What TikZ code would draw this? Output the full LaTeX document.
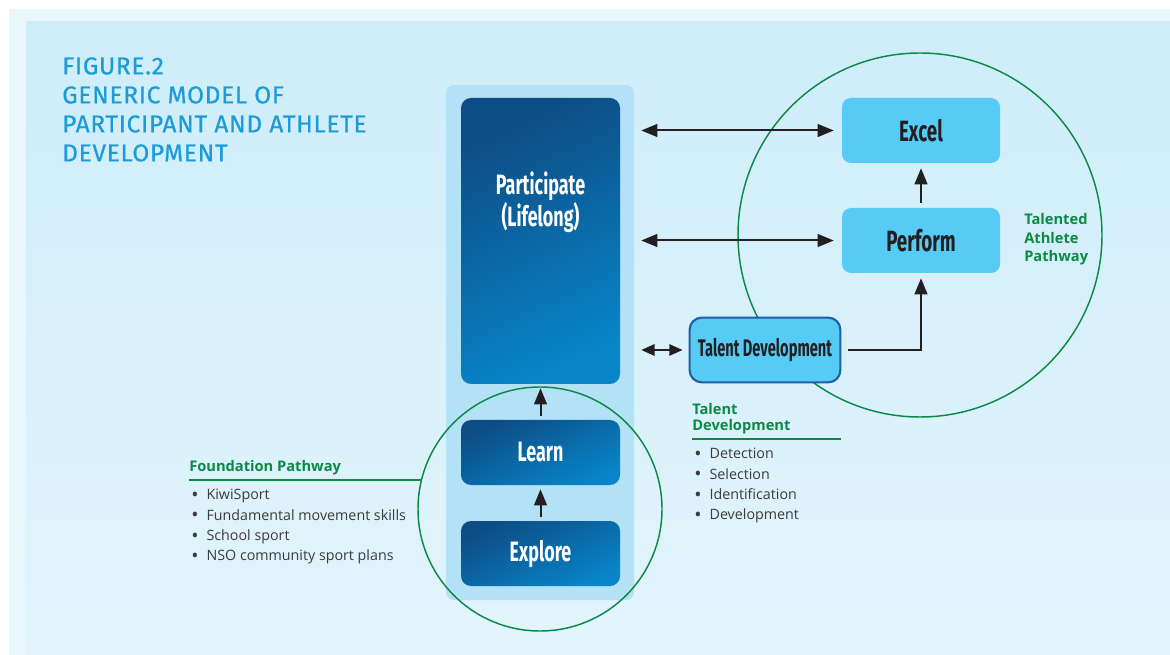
\documentclass[tikz,border=0pt]{standalone}
\usepackage{fontspec}
\usepackage{graphicx}
\setmainfont{Open Sans}
\newfontfamily\titlefont{Fira Sans}[FakeBold=0.6, LetterSpace=3]
\newfontfamily\boxfont{Fira Sans}
\usetikzlibrary{arrows.meta}
\definecolor{panelTop}{HTML}{CDEDF9}
\definecolor{panelBot}{HTML}{E3F4FC}
\definecolor{bandcol}{HTML}{E9F6FC}
\definecolor{colrect}{HTML}{B3E1F6}
\definecolor{darkA}{HTML}{0D4C85}
\definecolor{darkB}{HTML}{0885C8}
\definecolor{lightbox}{HTML}{55CBF5}
\definecolor{tdborder}{HTML}{1C5EA8}
\definecolor{pathgreen}{HTML}{0C8A45}
\definecolor{ink}{HTML}{231F20}
\definecolor{bodytext}{HTML}{3B3B3B}
\definecolor{titleblue}{HTML}{1B9CD8}
\newcommand{\cnd}[2][0.64]{\scalebox{#1}[1]{#2}}
\newcommand{\bul}{\makebox[13pt][l]{\hspace{1.5pt}\raisebox{-1.3pt}{\scalebox{1.35}{\textbullet}}}}
\tikzset{
  darkbox/.style={rounded corners=7.5pt, top color=darkA, bottom color=darkB, shading angle=25,
    minimum width=119.25pt, inner sep=0pt, text=white, font=\boxfont\bfseries\fontsize{21}{24}\selectfont},
  lightbx/.style={rounded corners=6.75pt, fill=lightbox, minimum width=118.5pt, minimum height=48.75pt,
    inner sep=0pt, text=ink, font=\boxfont\bfseries\fontsize{22}{24}\selectfont},
  arr/.style={ink, line width=1.5pt, -{Triangle[length=12pt,width=9.5pt]}},
  dbl/.style={ink, line width=1.5pt, {Triangle[length=12pt,width=9.5pt]}-{Triangle[length=12pt,width=9.5pt]}},
  sdbl/.style={ink, line width=1.5pt, {Triangle[length=10pt,width=8.5pt]}-{Triangle[length=10pt,width=8.5pt]}},
  gcircle/.style={pathgreen, line width=1.1pt},
  gline/.style={pathgreen, line width=0.9pt},
  glabel/.style={text=pathgreen, font=\bfseries\fontsize{11}{12}\selectfont, inner sep=0pt, align=left},
  blist/.style={text=bodytext, font=\fontsize{10.7}{15.3}\selectfont, inner sep=0pt, align=left}
}
\begin{document}
\begin{tikzpicture}[x=0.75pt,y=-0.75pt]
\useasboundingbox (0,0) rectangle (1170,655);
\fill[white] (0,0) rectangle (1170,655);
\fill[bandcol] (9,9) rectangle (1170,655);
\shade[top color=panelTop,bottom color=panelBot] (26,22) rectangle (1170,655);

% title
\node[anchor=north west, inner sep=0pt, align=left, text=titleblue,
  font=\titlefont\fontsize{18.3}{21.75}\selectfont] (title) at (62,57)
  {FIGURE.2\\GENERIC MODEL OF\\PARTICIPANT AND ATHLETE\\DEVELOPMENT};

% column
\fill[colrect, rounded corners=6pt] (446,85) rectangle (634,600);

% green circles
\draw[gcircle] (920,235) circle[radius=136.5pt];
\draw[gcircle] (540,509) circle[radius=91.5pt];

% boxes
\node[darkbox, minimum height=214.5pt] (part) at (540.5,241) {};
\node[text=white, font=\boxfont\bfseries\fontsize{21}{21.75}\selectfont, align=center, inner sep=0pt] (parttext) at (540.5,202)
  {\cnd{Participate}\\\cnd{(Lifelong)}};
\node[darkbox, minimum height=48.75pt] (learn) at (540.5,452.5) {\cnd{Learn}};
\node[darkbox, minimum height=48.75pt] (explore) at (540.5,553.5) {\cnd{Explore}};
\node[lightbx] (excel) at (921,130.5) {\cnd{Excel}};
\node[lightbx] (perform) at (921,240.5) {\cnd{Perform}};
\node[rounded corners=9pt, fill=lightbox, draw=tdborder, line width=1.6pt, minimum width=113pt, minimum height=48.5pt,
  inner sep=0pt, text=ink, font=\boxfont\bfseries\fontsize{18}{20}\selectfont] (td) at (765,350) {\cnd[0.61]{Talent Development}};

% connectors
\draw[dbl, shorten <=15.75pt, shorten >=6pt] (part.east |- excel.west) -- (excel.west);
\draw[dbl, shorten <=15.75pt, shorten >=6pt] (part.east |- perform.west) -- (perform.west);
\draw[sdbl, shorten <=15.75pt, shorten >=4.5pt] (part.east |- td.west) -- (td.west);
\draw[arr, shorten <=5.25pt, shorten >=3.75pt] (td.east) -| (perform.south);
\draw[arr, shorten <=3.75pt, shorten >=3.75pt] (perform.north) -- (excel.south);
\draw[arr, shorten <=3pt, shorten >=3pt] (explore.north) -- (learn.south);
\draw[arr, shorten <=3pt, shorten >=3pt] (learn.north) -- (part.south);

% foundation pathway
\node[glabel, anchor=base west] (fp) at (189,471) {Foundation Pathway};
\coordinate (fpstart) at (189,480);
\coordinate (fpend) at (421.5,480);
\draw[gline] (fpstart) -- (fpend);
\node[blist, anchor=north west] (fplist) at (189,489)
  {\bul KiwiSport\\
   \bul Fundamental movement skills\\
   \bul School sport\\
   \bul NSO community sport plans};

% talent development
\node[glabel, anchor=north west, font=\bfseries\fontsize{11}{12}\selectfont] (tdl) at (692,403) {Talent\\Development};
\coordinate (tdstart) at (692,439);
\coordinate (tdend) at (841,439);
\draw[gline] (tdstart) -- (tdend);
\node[blist, anchor=north west] (tdlist) at (692,448)
  {\bul Detection\\
   \bul Selection\\
   \bul Identification\\
   \bul Development};

% talented athlete pathway
\node[glabel, anchor=north west, font=\bfseries\fontsize{11}{14}\selectfont] (tap) at (1024,213) {Talented\\Athlete\\Pathway};
\end{tikzpicture}
\end{document}
